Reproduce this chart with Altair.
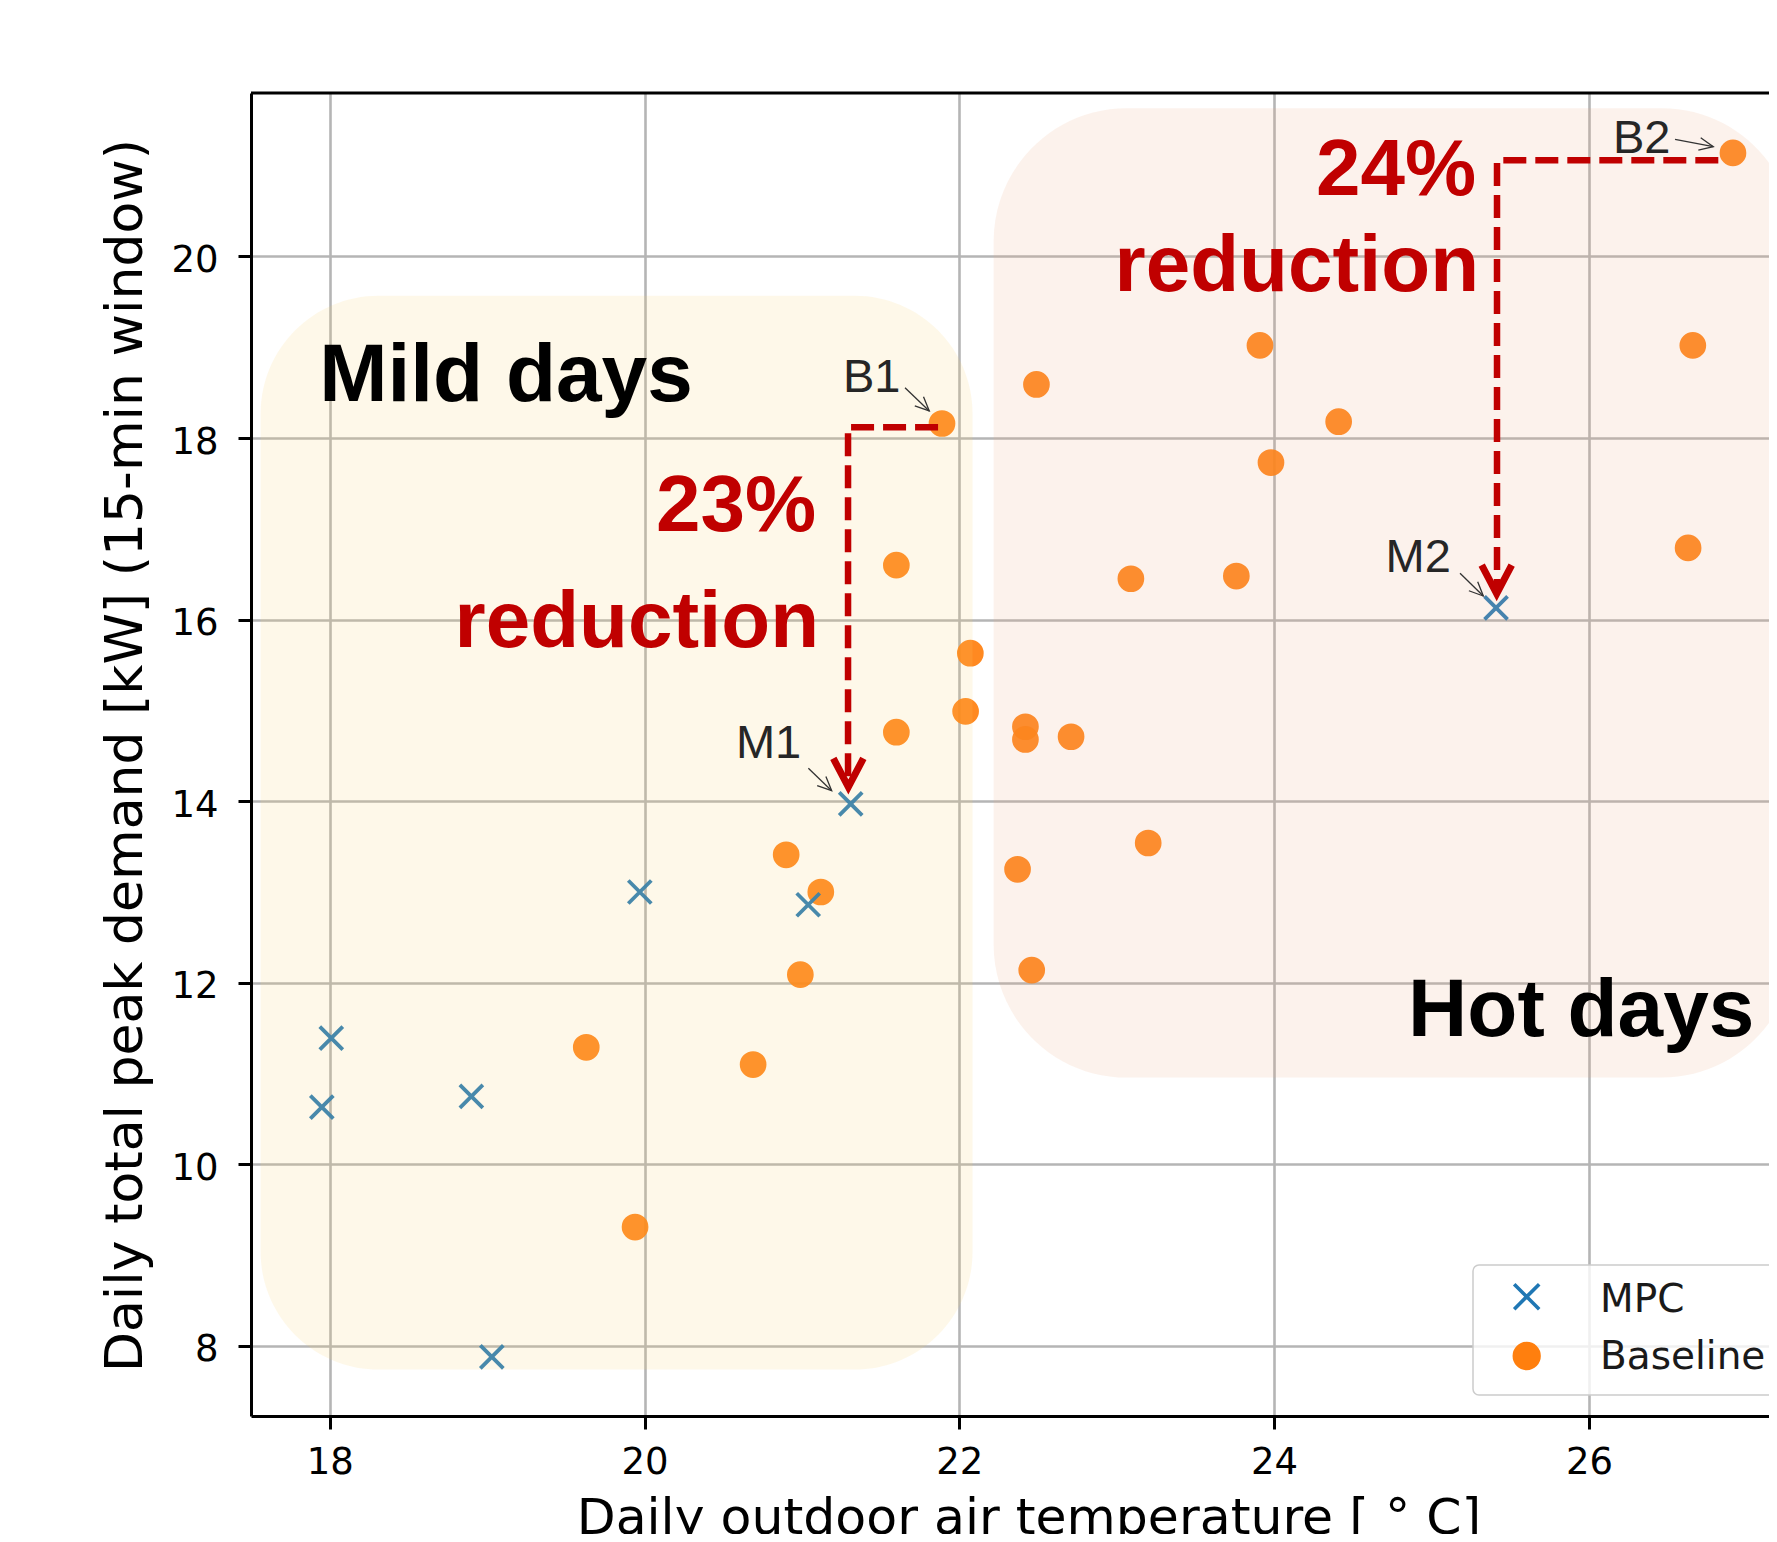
import altair as alt
import pandas as pd

# ---------------- data ----------------
series_names = ["MPC", "Baseline"]

mpc_temp = [17.95, 18.01, 18.90, 19.03, 19.97, 21.04, 21.31, 25.41]
mpc_peak = [10.63, 11.39, 10.75, 7.88, 13.00, 12.86, 13.97, 16.13]

base_temp = [19.63, 19.94, 20.69, 20.90, 21.12, 20.99, 21.60, 21.60, 21.89,
             22.07, 22.04, 22.49, 22.42, 22.42, 22.71, 22.37, 22.46, 23.09,
             23.20, 23.76, 23.91, 23.98, 24.41, 26.66, 26.63, 26.915]
base_peak = [11.29, 9.31, 11.10, 13.41, 13.00, 12.09, 16.60, 14.76, 18.16,
             15.63, 14.99, 18.59, 14.82, 14.68, 14.71, 13.25, 12.14, 16.45,
             13.54, 16.48, 19.02, 17.73, 18.18, 19.02, 16.79, 21.14]

x_ticks = [18, 20, 22, 24, 26]
y_ticks = [8, 10, 12, 14, 16, 18, 20]

x_title = "Daily outdoor air temperature [ \u00b0 C]"
y_title = "Daily total peak demand [kW] (15-min window)"

# ---------------- layout ----------------
W, H = 1518, 1323
PAD = {"left": 243, "top": 85, "right": 0, "bottom": 118}
XMIN, XMAX = 17.5, 27.144
YMIN, YMAX = 7.229, 21.8

xs = alt.Scale(domain=[XMIN, XMAX], nice=False, zero=False)
ys = alt.Scale(domain=[YMIN, YMAX], nice=False, zero=False)

AX_COMMON = dict(
    labelFont="DejaVu Sans", labelFontSize=37, labelColor="black",
    tickSize=13, tickWidth=3, tickColor="black",
    domainColor="black", domainWidth=3,
    grid=True, gridColor="#b5b5b5", gridWidth=2.6,
    labelFlush=False, labelOverlap=False, format="d",
    titleFont="DejaVu Sans", titleFontWeight="normal",
    titleColor="black", titleBaseline="alphabetic", titleAlign="center",
)
x_axis = alt.Axis(values=x_ticks, title=x_title, labelPadding=15, titleFontSize=50.5,
                  titleX=777.5, titleY=117, titleAngle=0, **AX_COMMON)
y_axis = alt.Axis(values=y_ticks, title=y_title, labelPadding=20, labelOffset=4,
                  titleFontSize=52,
                  titleX=-109.5, titleY=662, titleAngle=270, **AX_COMMON)


def X(field="x"):
    return alt.X(f"{field}:Q", scale=xs, axis=x_axis)


def Y(field="y"):
    return alt.Y(f"{field}:Q", scale=ys, axis=y_axis)


# ---------------- data marks ----------------
base_df = pd.DataFrame({"x": base_temp, "y": base_peak, "series": series_names[1]})
mpc_df = pd.DataFrame({"x": mpc_temp, "y": mpc_peak, "series": series_names[0]})

base_layer = alt.Chart(base_df).mark_point(
    shape="circle", filled=True, size=713, color="#ff7f0e", opacity=0.92
).encode(x=X(), y=Y())

XSHAPE = "M-1,-1L1,1M-1,1L1,-1"
mpc_layer = alt.Chart(mpc_df).mark_point(
    shape=XSHAPE, filled=False, size=529, stroke="#1f77b4", strokeWidth=3.8, opacity=0.95
).encode(x=X(), y=Y())

# ---------------- shaded regions (overlay) ----------------
mild_df = pd.DataFrame({"x": [17.561], "x2": [22.084], "y": [7.740], "y2": [19.568]})
hot_df = pd.DataFrame({"x": [22.218], "x2": [27.307], "y": [10.956], "y2": [21.631]})

mild_rect = alt.Chart(mild_df).mark_rect(
    color="#F8D06C", opacity=0.15, cornerRadius=118
).encode(x=X(), x2="x2:Q", y=Y(), y2="y2:Q")
hot_rect = alt.Chart(hot_df).mark_rect(
    color="#EBA880", opacity=0.15, cornerRadius=133
).encode(x=X(), x2="x2:Q", y=Y(), y2="y2:Q")

# top frame line
frame_df = pd.DataFrame({"k": [0]})
top_rule = alt.Chart(frame_df).mark_rule(color="black", strokeWidth=3).encode(
    x=alt.value(0), x2=alt.value(W + 20), y=alt.value(0)
)

# ---------------- red reduction arrows ----------------
red_path_df = pd.DataFrame({
    "x": [21.865, 21.293, 21.293, 26.822, 25.416, 25.416],
    "y": [18.118, 18.118, 14.234, 21.059, 21.059, 16.359],
    "g": ["a", "a", "a", "b", "b", "b"],
    "o": [0, 1, 2, 0, 1, 2],
})
red_lines = alt.Chart(red_path_df).mark_line(
    color="#C00000", strokeWidth=6.5, strokeDash=[23, 9], strokeCap="butt"
).encode(x=X(), y=Y(), detail="g:N", order="o:Q")

red_tip_df = pd.DataFrame({"x": [21.295, 25.414], "y": [14.157, 16.286]})
red_heads = alt.Chart(red_tip_df).mark_point(
    shape="M-1,-1.9L0,0L1,-1.9", filled=False, size=900, stroke="#C00000",
    strokeWidth=7, strokeJoin="miter", opacity=1
).encode(x=X(), y=Y())

# ---------------- thin label arrows ----------------
thin_df = pd.DataFrame({
    "x": [21.655, 21.041, 25.181, 26.547],
    "y": [18.554, 14.363, 16.510, 21.290],
    "x2": [21.809, 21.189, 25.329, 26.790],
    "y2": [18.298, 14.116, 16.260, 21.209],
    "ang": [43.8, 43.7, 44.3, 10.9],
})
thin_lines = alt.Chart(thin_df).mark_rule(color="#333333", strokeWidth=1.3).encode(
    x=X(), y=Y(), x2="x2:Q", y2="y2:Q"
)
thin_heads = alt.Chart(thin_df).mark_point(
    shape="M-2,-0.9L0,0L-2,0.9", filled=False, size=196, stroke="#333333",
    strokeWidth=1.3, opacity=1
).encode(
    x=X("x2"), y=Y("y2"),
    angle=alt.Angle("ang:Q", scale=None),
)

# ---------------- texts ----------------
big_df = pd.DataFrame({"x": [17.933, 24.851], "y": [18.413, 11.414],
                       "t": ["Mild days", "Hot days"]})
big_text = alt.Chart(big_df).mark_text(
    font="Liberation Sans", fontWeight="bold", fontSize=82, color="black",
    align="left", baseline="alphabetic"
).encode(x=X(), y=Y(), text="t:N")

red_df = pd.DataFrame({"x": [21.090, 21.109, 25.283, 25.302],
                       "y": [16.981, 15.699, 20.677, 19.622],
                       "t": ["23%", "reduction", "24%", "reduction"]})
red_text = alt.Chart(red_df).mark_text(
    font="Liberation Sans", fontWeight="bold", fontSize=80, color="#C00000",
    align="right", baseline="alphabetic"
).encode(x=X(), y=Y(), text="t:N")

lab_df = pd.DataFrame({"x": [21.261, 20.581, 24.708, 26.153],
                       "y": [18.510, 14.472, 16.525, 21.136],
                       "t": ["B1", "M1", "M2", "B2"]})
lab_text = alt.Chart(lab_df).mark_text(
    font="Liberation Sans", fontSize=47, color="#262626",
    align="left", baseline="alphabetic"
).encode(x=X(), y=Y(), text="t:N")

# ---------------- legend (drawn by hand, clipped at the right like the reference) ----------------
leg_box = alt.Chart(frame_df).mark_rect(
    fill="white", fillOpacity=0.8, stroke="#cccccc", strokeWidth=1.5, cornerRadius=6
).encode(x=alt.value(1222), x2=alt.value(1580), y=alt.value(1172), y2=alt.value(1302))

leg_df = pd.DataFrame({"name": series_names, "ly": [1203.7, 1263.0], "ty": [1218.7, 1276.3]})
leg_x = alt.Chart(leg_df.iloc[[0]]).mark_point(
    shape=XSHAPE, filled=False, size=625, stroke="#1f77b4", strokeWidth=3.6, opacity=1
).encode(x=alt.value(1275.7), y=alt.Y("ly:Q", scale=None))
leg_o = alt.Chart(leg_df.iloc[[1]]).mark_point(
    shape="circle", filled=True, size=800, color="#ff7f0e", opacity=1
).encode(x=alt.value(1275.7), y=alt.Y("ly:Q", scale=None))
leg_t = alt.Chart(leg_df).mark_text(
    font="DejaVu Sans", fontSize=39, color="#1a1a1a", align="left", baseline="alphabetic"
).encode(x=alt.value(1349), y=alt.Y("ty:Q", scale=None), text="name:N")

chart = alt.layer(
    base_layer, mpc_layer, mild_rect, hot_rect, top_rule,
    red_lines, red_heads, thin_lines, thin_heads,
    big_text, red_text, lab_text,
    leg_box, leg_x, leg_o, leg_t,
).properties(
    width=W, height=H,
    autosize=alt.AutoSizeParams(type="none"),
    padding=PAD,
    background="white",
).configure_view(stroke=None)

chart.save("out.html", embed_options={"renderer": "svg", "actions": False})
